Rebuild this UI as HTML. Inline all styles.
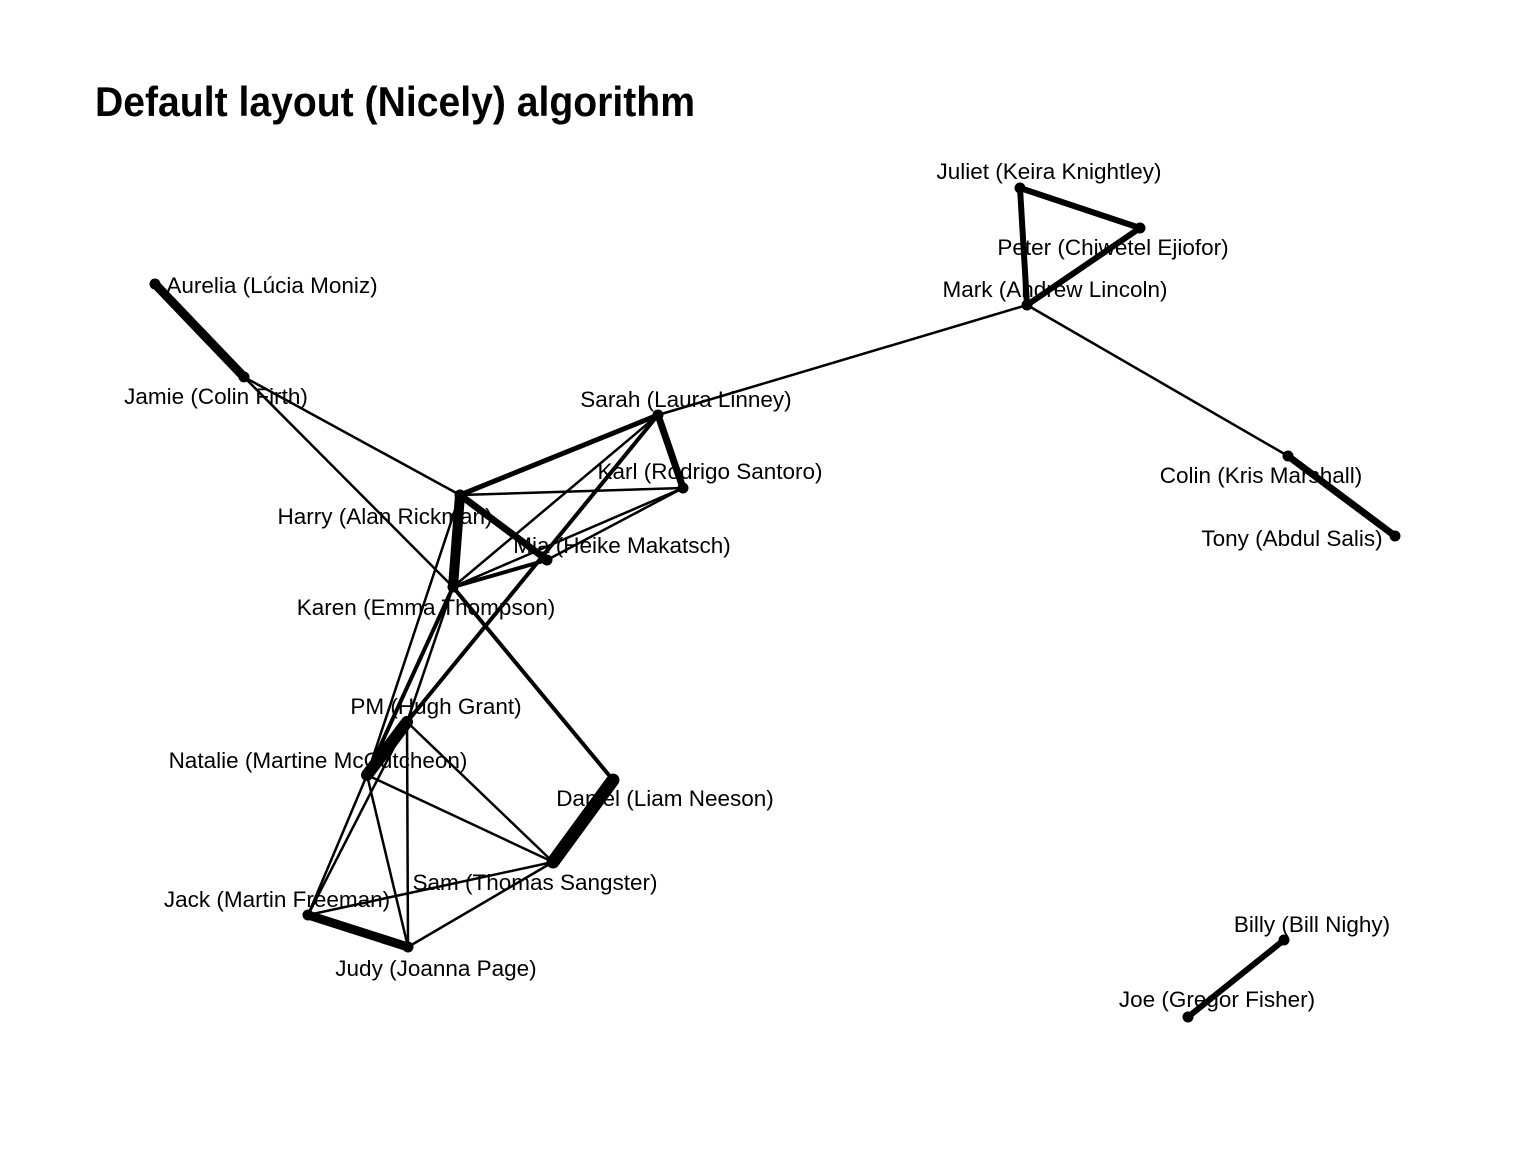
<!DOCTYPE html>
<html><head><meta charset="utf-8"><style>html,body{margin:0;padding:0;background:#fff}svg{display:block}</style></head>
<body>
<svg width="1536" height="1152" viewBox="0 0 1536 1152" xmlns="http://www.w3.org/2000/svg">
<rect width="1536" height="1152" fill="#fff"/>
<text x="95" y="116" font-family="Liberation Sans, sans-serif" font-weight="bold" font-size="42" textLength="600" lengthAdjust="spacingAndGlyphs">Default layout (Nicely) algorithm</text>
<g stroke="#000" stroke-linecap="round" fill="none">
<line x1="1020" y1="188" x2="1140" y2="228" stroke-width="6"/>
<line x1="1020" y1="188" x2="1027" y2="305" stroke-width="6"/>
<line x1="1140" y1="228" x2="1027" y2="305" stroke-width="6"/>
<line x1="1027" y1="305" x2="658" y2="415" stroke-width="2.5"/>
<line x1="1027" y1="305" x2="1288" y2="456" stroke-width="2.5"/>
<line x1="1288" y1="456" x2="1395" y2="536" stroke-width="7"/>
<line x1="155" y1="284" x2="244" y2="377" stroke-width="9"/>
<line x1="244" y1="377" x2="460" y2="495" stroke-width="2.5"/>
<line x1="244" y1="377" x2="453" y2="587" stroke-width="2.5"/>
<line x1="453" y1="587" x2="613" y2="780" stroke-width="4"/>
<line x1="658" y1="415" x2="683" y2="488" stroke-width="7"/>
<line x1="658" y1="415" x2="460" y2="495" stroke-width="5"/>
<line x1="658" y1="415" x2="453" y2="587" stroke-width="2.5"/>
<line x1="658" y1="415" x2="407" y2="722" stroke-width="4"/>
<line x1="460" y1="495" x2="683" y2="488" stroke-width="2.5"/>
<line x1="460" y1="495" x2="547" y2="560" stroke-width="7"/>
<line x1="460" y1="495" x2="453" y2="587" stroke-width="10"/>
<line x1="460" y1="495" x2="367" y2="775" stroke-width="2.5"/>
<line x1="683" y1="488" x2="453" y2="587" stroke-width="2.5"/>
<line x1="683" y1="488" x2="547" y2="560" stroke-width="2.5"/>
<line x1="453" y1="587" x2="547" y2="560" stroke-width="4"/>
<line x1="453" y1="587" x2="367" y2="775" stroke-width="4"/>
<line x1="453" y1="587" x2="407" y2="722" stroke-width="2.5"/>
<line x1="407" y1="722" x2="367" y2="775" stroke-width="12"/>
<line x1="407" y1="722" x2="553" y2="862" stroke-width="2.5"/>
<line x1="407" y1="722" x2="408" y2="947" stroke-width="2.5"/>
<line x1="407" y1="722" x2="308" y2="915" stroke-width="2.5"/>
<line x1="367" y1="775" x2="553" y2="862" stroke-width="2.5"/>
<line x1="367" y1="775" x2="408" y2="947" stroke-width="2.5"/>
<line x1="367" y1="775" x2="308" y2="915" stroke-width="2.5"/>
<line x1="308" y1="915" x2="553" y2="862" stroke-width="2.5"/>
<line x1="408" y1="947" x2="553" y2="862" stroke-width="2.5"/>
<line x1="308" y1="915" x2="408" y2="947" stroke-width="9"/>
<line x1="613" y1="780" x2="553" y2="862" stroke-width="13"/>
<line x1="1284" y1="940" x2="1188" y2="1017" stroke-width="6"/>
</g>
<g fill="#000">
<circle cx="1020" cy="188" r="5.5"/><circle cx="1140" cy="228" r="5.5"/><circle cx="1027" cy="305" r="5.5"/>
<circle cx="155" cy="284" r="5.5"/><circle cx="244" cy="377" r="5.5"/><circle cx="658" cy="415" r="5.5"/>
<circle cx="683" cy="488" r="5.5"/><circle cx="460" cy="495" r="5.5"/><circle cx="547" cy="560" r="5.5"/>
<circle cx="453" cy="587" r="5.5"/><circle cx="407" cy="722" r="5.5"/><circle cx="367" cy="775" r="5.5"/>
<circle cx="613" cy="780" r="5.5"/><circle cx="553" cy="862" r="5.5"/><circle cx="308" cy="915" r="5.5"/>
<circle cx="408" cy="947" r="5.5"/><circle cx="1288" cy="456" r="5.5"/><circle cx="1395" cy="536" r="5.5"/>
<circle cx="1284" cy="940" r="5.5"/><circle cx="1188" cy="1017" r="5.5"/>
</g>
<g font-family="Liberation Sans, sans-serif" font-size="22.5" fill="#000" text-anchor="middle">
<text x="1049" y="179">Juliet (Keira Knightley)</text>
<text x="1113" y="255">Peter (Chiwetel Ejiofor)</text>
<text x="1055" y="297">Mark (Andrew Lincoln)</text>
<text x="272" y="293">Aurelia (Lúcia Moniz)</text>
<text x="216" y="404">Jamie (Colin Firth)</text>
<text x="686" y="407">Sarah (Laura Linney)</text>
<text x="710" y="479">Karl (Rodrigo Santoro)</text>
<text x="385" y="524">Harry (Alan Rickman)</text>
<text x="622" y="553">Mia (Heike Makatsch)</text>
<text x="426" y="615">Karen (Emma Thompson)</text>
<text x="436" y="714">PM (Hugh Grant)</text>
<text x="318" y="768">Natalie (Martine McCutcheon)</text>
<text x="665" y="806">Daniel (Liam Neeson)</text>
<text x="535" y="890">Sam (Thomas Sangster)</text>
<text x="277" y="907">Jack (Martin Freeman)</text>
<text x="436" y="976">Judy (Joanna Page)</text>
<text x="1261" y="483">Colin (Kris Marshall)</text>
<text x="1292" y="546">Tony (Abdul Salis)</text>
<text x="1312" y="932">Billy (Bill Nighy)</text>
<text x="1217" y="1007">Joe (Gregor Fisher)</text>
</g>
</svg>
</body></html>
